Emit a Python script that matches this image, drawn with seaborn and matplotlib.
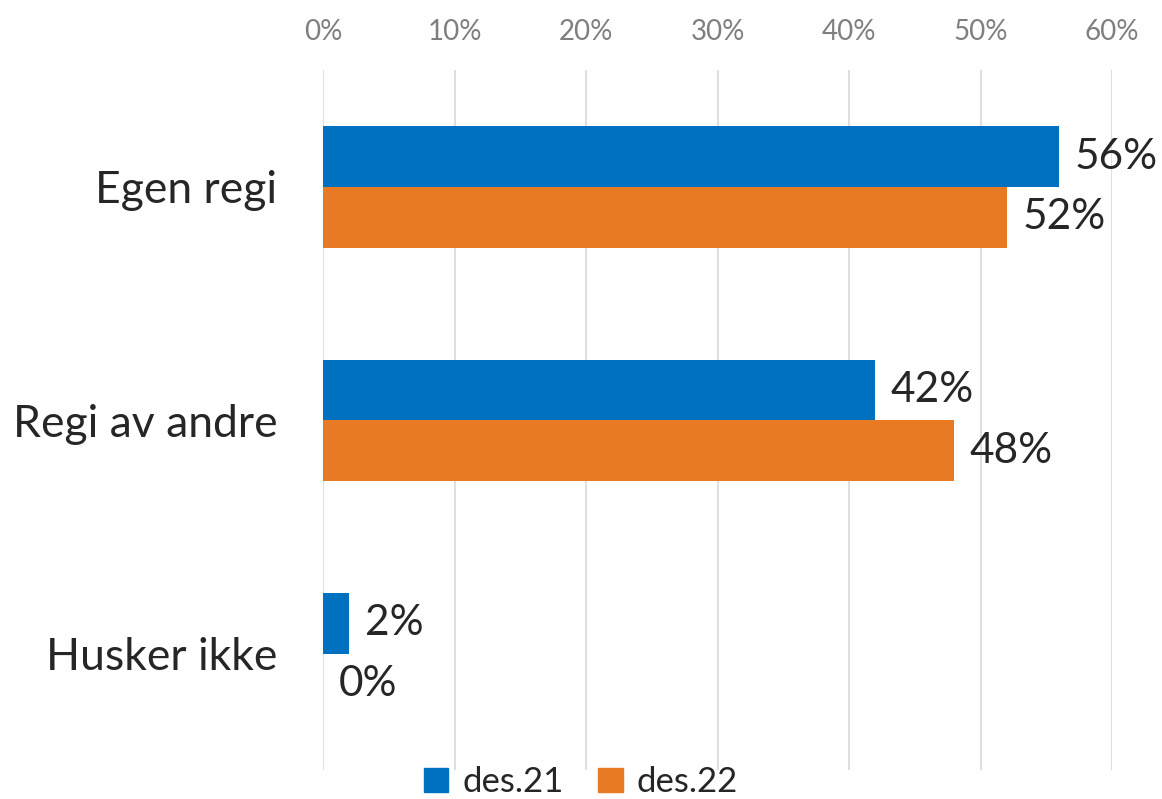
import pandas as pd
import seaborn as sns
import matplotlib.pyplot as plt
from matplotlib.patches import Patch

categories = ["Egen regi", "Regi av andre", "Husker ikke"]
periods = ["des.21", "des.22"]
des21 = [0.56, 0.42, 0.02]
des22 = [0.52, 0.48, 0.00]
xticks = [0, 0.1, 0.2, 0.3, 0.4, 0.5, 0.6]
colors = ["#0070C0", "#E97A24"]

df = pd.DataFrame({
    "kategori": categories * 2,
    "periode": [periods[0]] * 3 + [periods[1]] * 3,
    "andel": des21 + des22,
})

sns.set_style("white")
plt.rcParams["font.family"] = ["Lato", "DejaVu Sans"]

fig = plt.figure(figsize=(11.62, 7.99), dpi=100)
ax = fig.add_axes([0.278, 0.036, 0.679, 0.876])

sns.barplot(data=df, y="kategori", x="andel", hue="periode", orient="h",
            palette=colors, saturation=1, width=0.52, gap=0, linewidth=0,
            ax=ax, legend=False)

for c in ax.containers:
    ax.bar_label(c, labels=[f"{v * 100:.0f}%" for v in c.datavalues],
                 padding=11, fontsize=30.5, color="#262626")

ax.set_xlim(0, 0.6)
ax.set_ylim(2.5, -0.5)
ax.set_xticks(xticks)
ax.set_xticklabels([f"{t * 100:.0f}%" for t in xticks], fontsize=20, color="#7f7f7f")
ax.xaxis.tick_top()
ax.tick_params(axis="x", length=0, pad=18)
ax.tick_params(axis="y", length=0, pad=33, labelsize=32, labelcolor="#262626")
ax.grid(axis="x", color="#d9d9d9", linewidth=1.2)
ax.set_axisbelow(True)
ax.set_xlabel("")
ax.set_ylabel("")
sns.despine(ax=ax, left=True, bottom=True, top=True, right=True)

handles = [Patch(color=col) for col in colors]
fig.legend(handles, periods, loc="center", bbox_to_anchor=(0.5, 0.021), ncol=2,
           frameon=False, fontsize=25, handlelength=0.7, handleheight=0.7,
           handletextpad=0.4, columnspacing=1.0, labelcolor="#262626")

fig.savefig("out.png", dpi=100)
